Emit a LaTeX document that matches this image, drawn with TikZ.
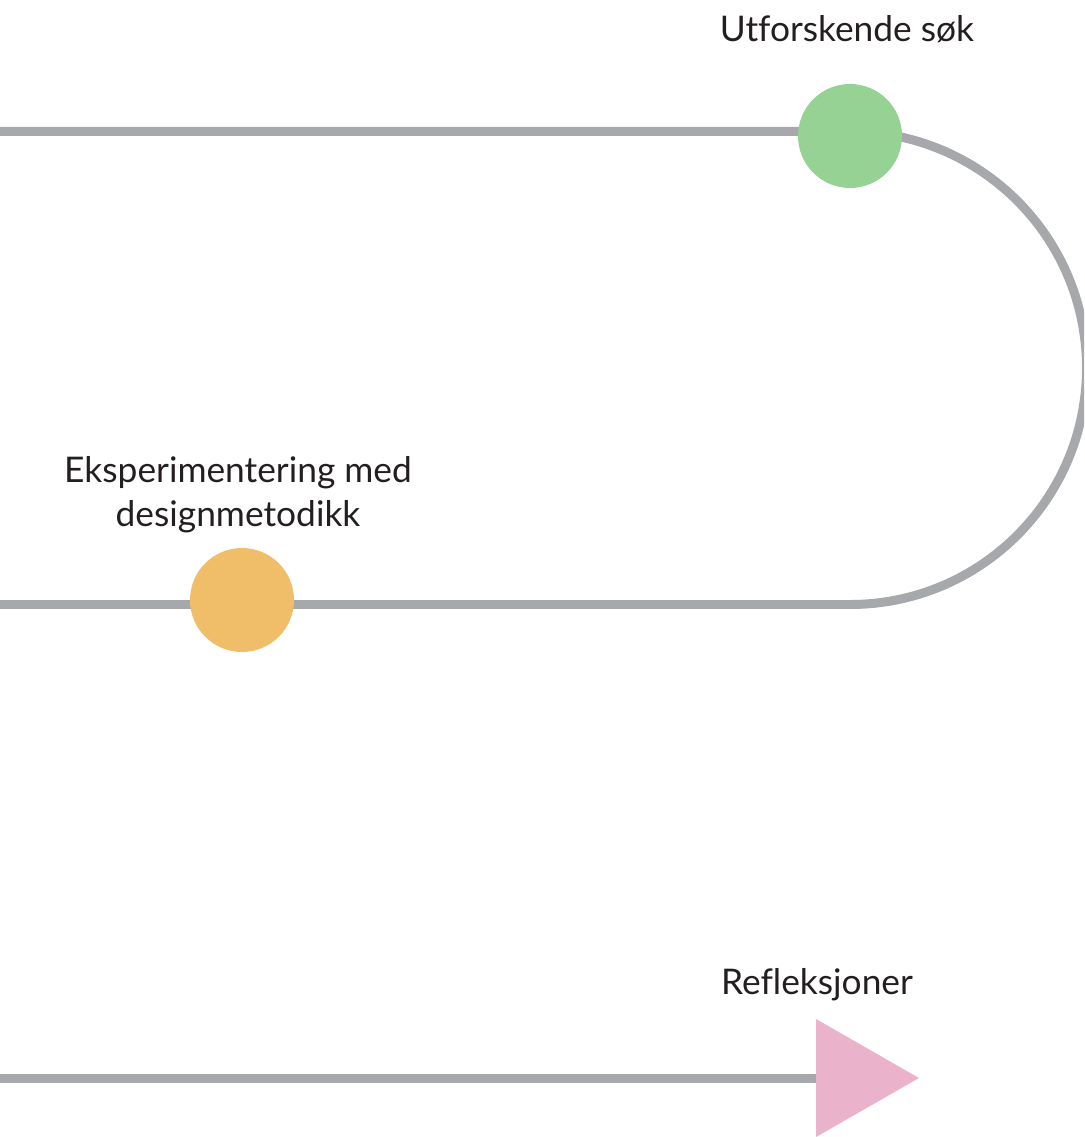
\documentclass[tikz,border=0pt]{standalone}
\usepackage{fontspec}
\setmainfont{Lato}[Ligatures={NoCommon}]
\definecolor{linegray}{HTML}{A7A8AC}
\definecolor{dotgreen}{HTML}{96D294}
\definecolor{dotorange}{HTML}{F0BD69}
\definecolor{tripink}{HTML}{EBB3CB}
\definecolor{textdark}{HTML}{231F20}
\tikzset{
  track/.style={draw=linegray, line width=6.75pt},
  dot/.style={circle, inner sep=0pt, minimum size=78pt, draw=none},
  lbl/.style={text=textdark, font=\fontsize{26.5}{33}\selectfont, inner sep=0pt, align=center}
}
\begin{document}
\begin{tikzpicture}[x=0.75pt,y=-0.75pt]
\useasboundingbox (0,0) rectangle (1084,1137);
\clip (0,0) rectangle (1084,1137);
% track coordinates
\coordinate (tl) at (-10,131.5);
\coordinate (tt) at (850,131.5);
\coordinate (ml) at (-10,604.5);
\coordinate (mb) at (850,604.5);
\coordinate (bl) at (-10,1078.5);
% tracks
\draw[track] (tl) -- (tt) arc[start angle=-90, end angle=90, radius=236.5];
\draw[track] (ml) -- (mb);
\draw[track] (bl) -- (820,1078.5);
% markers
\node[dot, fill=dotgreen] (green) at (850,136) {};
\node[dot, fill=dotorange] (orange) at (242,600) {};
\fill[tripink] (816,1019) -- (919,1078) -- (816,1137) -- cycle;
% labels
\node[lbl, anchor=base] (l1) at (847,42) {Utforskende søk};
\node[lbl, anchor=base] (l2) at (238,526) {Eksperimentering med\\designmetodikk};
\node[lbl, anchor=base] (l3) at (817,994) {Refleksjoner};
\end{tikzpicture}
\end{document}
